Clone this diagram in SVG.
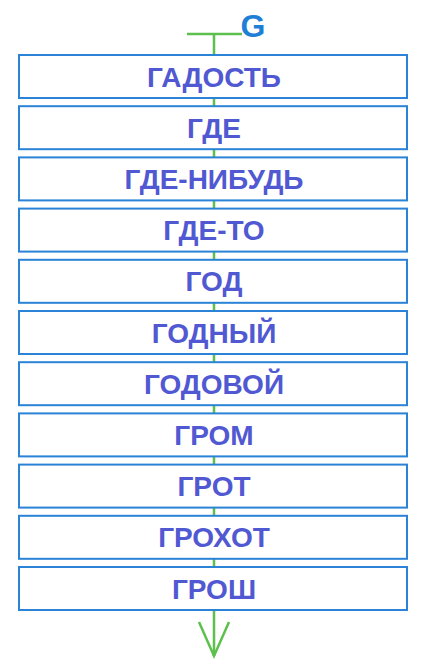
<svg xmlns="http://www.w3.org/2000/svg" width="429" height="667" viewBox="0 0 429 667">
<style>
.box{fill:#ffffff;stroke:#2a83d6;stroke-width:2}
.lbl{font-family:"Liberation Sans",Arial,sans-serif;font-weight:bold;font-size:28px;fill:#5058d2;text-anchor:middle}
.conn{stroke:#5cc04c;stroke-width:2.5;fill:none}
</style>
<rect width="429" height="667" fill="#ffffff"/>
<g id="connectors">
<line class="conn" x1="187" y1="34" x2="242" y2="34"/>
<line class="conn" x1="214" y1="34" x2="214" y2="656"/>
<polyline class="conn" points="199,622 214,656 229,622"/>
</g>
<g id="title"><text x="253" y="37" font-family="Liberation Sans,Arial,sans-serif" font-weight="bold" font-size="32" fill="#1f7fd6" text-anchor="middle">G</text></g>
<g id="n1"><rect class="box" x="19" y="55" width="388" height="43"/><text class="lbl" x="214" y="86.5">ГАДОСТЬ</text></g>
<g id="n2"><rect class="box" x="19" y="106.2" width="388" height="43"/><text class="lbl" x="214" y="137.7">ГДЕ</text></g>
<g id="n3"><rect class="box" x="19" y="157.4" width="388" height="43"/><text class="lbl" x="214" y="188.9">ГДЕ-НИБУДЬ</text></g>
<g id="n4"><rect class="box" x="19" y="208.6" width="388" height="43"/><text class="lbl" x="214" y="240.1">ГДЕ-ТО</text></g>
<g id="n5"><rect class="box" x="19" y="259.8" width="388" height="43"/><text class="lbl" x="214" y="291.3">ГОД</text></g>
<g id="n6"><rect class="box" x="19" y="311" width="388" height="43"/><text class="lbl" x="214" y="342.5">ГОДНЫЙ</text></g>
<g id="n7"><rect class="box" x="19" y="362.2" width="388" height="43"/><text class="lbl" x="214" y="393.7">ГОДОВОЙ</text></g>
<g id="n8"><rect class="box" x="19" y="413.4" width="388" height="43"/><text class="lbl" x="214" y="444.9">ГРОМ</text></g>
<g id="n9"><rect class="box" x="19" y="464.6" width="388" height="43"/><text class="lbl" x="214" y="496.1">ГРОТ</text></g>
<g id="n10"><rect class="box" x="19" y="515.8" width="388" height="43"/><text class="lbl" x="214" y="547.3">ГРОХОТ</text></g>
<g id="n11"><rect class="box" x="19" y="567" width="388" height="43"/><text class="lbl" x="214" y="598.5">ГРОШ</text></g>
</svg>
